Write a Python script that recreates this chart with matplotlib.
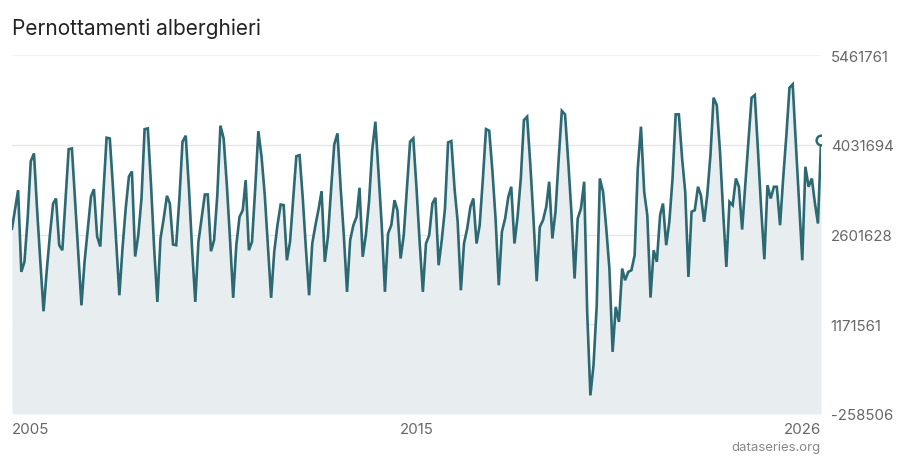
import matplotlib
matplotlib.use("Agg")
import matplotlib.pyplot as plt
import pandas as pd

plt.rcParams['font.family'] = ['Inter', 'DejaVu Sans']

# monthly hotel overnight stays, Jan 2005 .. May 2026
values = [
    2697000, 3017000, 3309000, 2006000, 2166000, 2857000, 3771000, 3894000, 2969000, 2171000, 1378000, 2011000,  # 2005
    2590000, 3096000, 3176000, 2431000, 2351000, 3176000, 3963000, 3974000, 3128000, 2330000, 1473000, 2171000,  # 2006
    2697000, 3208000, 3325000, 2570000, 2410000, 3288000, 4145000, 4134000, 3336000, 2490000, 1633000, 2378000,  # 2007
    3017000, 3527000, 3607000, 2250000, 2590000, 3176000, 4282000, 4293000, 3388000, 2378000, 1527000, 2538000,  # 2008
    2857000, 3219000, 3096000, 2442000, 2431000, 3176000, 4081000, 4177000, 3336000, 2378000, 1527000, 2485000,  # 2009
    2857000, 3240000, 3240000, 2335000, 2511000, 3229000, 4337000, 4134000, 3388000, 2538000, 1592000, 2431000,  # 2010
    2884000, 2990000, 3468000, 2351000, 2485000, 3336000, 4250000, 3842000, 3229000, 2431000, 1592000, 2326000,  # 2011
    2750000, 3080000, 3069000, 2191000, 2485000, 3176000, 3851000, 3867000, 3176000, 2378000, 1633000, 2458000,  # 2012
    2750000, 3017000, 3293000, 2166000, 2565000, 3336000, 4038000, 4214000, 3336000, 2590000, 1687000, 2511000,  # 2013
    2750000, 2884000, 3347000, 2246000, 2590000, 3128000, 3947000, 4400000, 3548000, 2750000, 1687000, 2618000,  # 2014
    2750000, 3149000, 2990000, 2219000, 2590000, 3336000, 4081000, 4134000, 3336000, 2485000, 1687000, 2458000,  # 2015
    2590000, 3096000, 3187000, 2112000, 2511000, 3017000, 4070000, 4091000, 3336000, 2809000, 1713000, 2458000,  # 2016
    2697000, 3044000, 3176000, 2458000, 2750000, 3495000, 4282000, 4257000, 3607000, 2857000, 1793000, 2645000,  # 2017
    2857000, 3203000, 3363000, 2458000, 2884000, 3495000, 4426000, 4480000, 3708000, 2857000, 1857000, 2725000,  # 2018
    2830000, 3044000, 3443000, 2538000, 2964000, 3815000, 4573000, 4517000, 3762000, 2964000, 1900000, 2857000,  # 2019
    3017000, 3443000, 1373000, 37000, 516000, 1473000, 3495000, 3283000, 2697000, 2059000, 730000, 1448000,       # 2020
    1209000, 2059000, 1873000, 2006000, 2032000, 2271000, 3655000, 4321000, 3283000, 2910000, 1596000, 2351000,  # 2021
    2166000, 2910000, 3096000, 2431000, 2804000, 3495000, 4517000, 4517000, 3815000, 3283000, 1926000, 2964000,  # 2022
    2990000, 3363000, 3229000, 2804000, 3229000, 3867000, 4783000, 4665000, 3921000, 2964000, 2086000, 3123000,  # 2023
    3069000, 3495000, 3363000, 2681000, 3388000, 4086000, 4783000, 4825000, 3926000, 3017000, 2207000, 3388000,  # 2024
    3176000, 3363000, 3363000, 2750000, 3495000, 4186000, 4943000, 4996000, 4027000, 3123000, 2191000, 3682000,  # 2025
    3363000, 3495000, 3123000, 2777000, 4102000,                                                                  # 2026
]
dates = pd.date_range("2005-01-01", periods=len(values), freq="MS")

y_ticks = [-258506, 1171561, 2601628, 4031694, 5461761]
y_labels = ["-258506", "1171561", "2601628", "4031694", "5461761"]

line_col = "#2c6973"
fill_col = "#e8eef0"
txt_col = "#666666"

fig = plt.figure(figsize=(9, 4.6), dpi=100)
ax = fig.add_axes([0.0133, 0.098, 0.899, 0.78])

ax.fill_between(dates, values, y_ticks[0], color=fill_col, lw=0)
ax.plot(dates, values, color=line_col, lw=1.9, solid_joinstyle="miter")
ax.plot(dates[-1], values[-1], "o", ms=7, mfc="white", mec=line_col, mew=1.8)

ax.set_xlim(dates[0], dates[-1])
ax.set_ylim(y_ticks[0], y_ticks[-1])

for i, t in enumerate(y_ticks[1:]):
    ax.axhline(t, color="#f2f2f2" if i == 3 else "#e4e4e4", lw=0.9, zorder=0.5)

for s in ax.spines.values():
    s.set_visible(False)

ax.yaxis.tick_right()
ax.set_yticks(y_ticks)
ax.set_yticklabels(y_labels)
ax.tick_params(axis="y", length=0, pad=7, labelsize=10.8, labelcolor=txt_col)

mid = dates[len(dates) // 2]
ax.set_xticks([dates[0], mid, dates[-1]])
ax.set_xticklabels([str(dates[0].year), str(mid.year), str(dates[-1].year)])
ax.tick_params(axis="x", length=0, pad=6, labelsize=10.8, labelcolor=txt_col)
xl = ax.get_xticklabels()
xl[0].set_horizontalalignment("left")
xl[-1].set_horizontalalignment("right")

fig.text(0.0133, 0.937, "Pernottamenti alberghieri", fontsize=15, color="#222222",
         ha="left", va="center")
fig.text(0.912, 0.025, "dataseries.org", fontsize=9.5, color="#888888", ha="right", va="center")

fig.savefig("out.png", dpi=100)
